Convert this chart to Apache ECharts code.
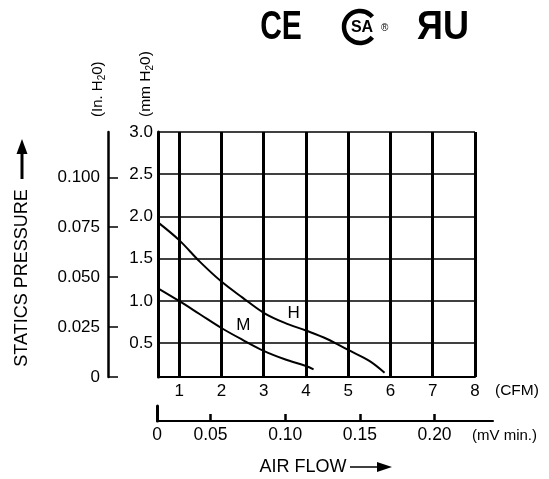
<!DOCTYPE html>
<html>
<head>
<meta charset="utf-8">
<script src="https://cdn.jsdelivr.net/npm/echarts@6/dist/echarts.min.js"></script>
<style>
html,body{margin:0;padding:0;background:#fff;}
#c{width:549px;height:479px;}
</style>
</head>
<body>
<div id="c"></div>
<script>
// ---- data ----
const cfmTicks = [1, 2, 3, 4, 5, 6, 7, 8];
const mmTicks = [0.5, 1.0, 1.5, 2.0, 2.5, 3.0];
const inTicks = [0, 0.025, 0.05, 0.075, 0.1];
const m3Ticks = [0.05, 0.10, 0.15, 0.20];
const seriesH = [[0.5,1.93],[1,1.72],[1.5,1.46],[2,1.23],[2.5,1.04],[3,0.86],[3.5,0.74],[4,0.65],[4.5,0.55],[5,0.42],[5.5,0.29],[5.86,0.15]];
const seriesM = [[0.5,1.15],[1,1.0],[1.5,0.84],[2,0.68],[2.5,0.54],[3,0.41],[3.5,0.31],[4,0.23],[4.18,0.19]];
const labelH = [3.71, 0.85];
const labelM = [2.52, 0.71];
const M3_PER_CFM = 0.0283;

const cfmMin = 0.5, cfmMax = 8;
const mmMin = 0.1, mmMax = 3.0;
const inMax = 0.1227;
const m3Min = cfmMin * M3_PER_CFM;
const m3Max = m3Min + (cfmMax - cfmMin) * M3_PER_CFM * 336 / 317;

const FONT = 'Liberation Sans';
const FS = 17;
const chart = echarts.init(document.getElementById('c'), null, {renderer: 'canvas'});
const subRich = {s: {fontSize: 10, fontFamily: FONT, color: '#000', padding: [8, 0, 0, 0]}};

chart.setOption({
  animation: false,
  backgroundColor: '#fff',
  textStyle: {fontFamily: FONT, color: '#000'},
  grid: [
    {left: 158, top: 132, width: 317, height: 245, containLabel: false},
    {left: 157, top: 406, width: 336, height: 15, containLabel: false}
  ],
  xAxis: [
    {
      type: 'value', gridIndex: 0, min: cfmMin, max: cfmMax,
      axisLine: {show: true, onZero: false, lineStyle: {color: '#000', width: 2}},
      axisTick: {show: false, customValues: cfmTicks},
      axisLabel: {customValues: cfmTicks, fontSize: FS, margin: 6, color: '#000', fontFamily: FONT},
      splitLine: {show: true, lineStyle: {color: '#000', width: 3}}
    },
    {
      type: 'value', gridIndex: 1, min: m3Min, max: m3Max,
      axisLine: {show: true, onZero: false, lineStyle: {color: '#000', width: 2}},
      axisTick: {show: true, inside: true, length: 7, customValues: [m3Min].concat(m3Ticks), lineStyle: {color: '#000', width: 2.5}},
      axisLabel: {customValues: [m3Min].concat(m3Ticks), fontSize: 17.5, margin: 5, color: '#000', fontFamily: FONT,
        formatter: v => (v === m3Min ? '0' : v.toFixed(2))},
      splitLine: {show: false}
    }
  ],
  yAxis: [
    {
      type: 'value', gridIndex: 0, min: mmMin, max: mmMax, position: 'left',
      axisLine: {show: true, onZero: false, lineStyle: {color: '#000', width: 3}},
      axisTick: {show: false, customValues: mmTicks},
      axisLabel: {customValues: mmTicks, fontSize: FS, margin: 5, color: '#000', fontFamily: FONT,
        formatter: v => v.toFixed(1)},
      splitLine: {show: true, lineStyle: {color: '#000', width: 1.5}},
      name: '(mm H{s|2}0)', nameLocation: 'end', nameRotate: 90, nameGap: 15,
      nameTextStyle: {fontSize: 15.5, fontFamily: FONT, color: '#000', padding: [0, 0, 24, 0], rich: subRich}
    },
    {
      type: 'value', gridIndex: 0, min: 0, max: inMax, position: 'left', offset: 50,
      axisLine: {show: true, onZero: false, lineStyle: {color: '#000', width: 2.5}},
      axisTick: {show: true, inside: true, length: 10, customValues: inTicks, lineStyle: {color: '#000', width: 1.5}},
      axisLabel: {customValues: inTicks, fontSize: FS, margin: 8, color: '#000', fontFamily: FONT,
        formatter: v => (v === 0 ? '0' : v.toFixed(3))},
      splitLine: {show: false},
      name: '(In. H{s|2}0)', nameLocation: 'end', nameRotate: 90, nameGap: 15,
      nameTextStyle: {fontSize: 15, fontFamily: FONT, color: '#000', padding: [0, 0, 20, 0], rich: subRich}
    },
    {
      type: 'value', gridIndex: 1, min: 0, max: 1,
      axisLine: {show: true, lineStyle: {color: '#000', width: 3}},
      axisTick: {show: false}, axisLabel: {show: false}, splitLine: {show: false}
    }
  ],
  series: [
    {
      name: 'H', type: 'line', xAxisIndex: 0, yAxisIndex: 0, data: seriesH,
      smooth: 0.35, symbol: 'none', lineStyle: {color: '#000', width: 2},
      markPoint: {symbol: 'circle', symbolSize: 0,
        label: {show: true, formatter: 'H', fontSize: 17, color: '#000', fontFamily: FONT},
        data: [{coord: labelH}]}
    },
    {
      name: 'M', type: 'line', xAxisIndex: 0, yAxisIndex: 0, data: seriesM,
      smooth: 0.35, symbol: 'none', lineStyle: {color: '#000', width: 2},
      markPoint: {symbol: 'circle', symbolSize: 0,
        label: {show: true, formatter: 'M', fontSize: 17, color: '#000', fontFamily: FONT},
        data: [{coord: labelM}]}
    }
  ],
  graphic: [
    {type: 'text', x: 22, y: 278, rotation: Math.PI / 2,
      style: {text: 'STATICS PRESSURE', fontSize: 18, fontFamily: FONT, fill: '#000', align: 'center', verticalAlign: 'middle'}},
    {type: 'line', shape: {x1: 22, y1: 179, x2: 22, y2: 150}, style: {stroke: '#000', lineWidth: 3}},
    {type: 'polygon', shape: {points: [[22, 139], [16.5, 154], [27.5, 154]]}, style: {fill: '#000'}},
    {type: 'text', x: 303, y: 467,
      style: {text: 'AIR FLOW', fontSize: 18, fontFamily: FONT, fill: '#000', align: 'center', verticalAlign: 'middle'}},
    {type: 'line', shape: {x1: 350, y1: 467, x2: 380, y2: 467}, style: {stroke: '#000', lineWidth: 1.5}},
    {type: 'polygon', shape: {points: [[392, 467], [377, 462], [377, 472]]}, style: {fill: '#000'}},
    {type: 'text', x: 495, y: 391,
      style: {text: '(CFM)', fontSize: 15.5, fontFamily: FONT, fill: '#000', align: 'left', verticalAlign: 'middle'}},
    {type: 'text', x: 472, y: 436,
      style: {text: '(mV min.)', fontSize: 15, fontFamily: FONT, fill: '#000', align: 'left', verticalAlign: 'middle'}},
    // certification marks
    {type: 'text', x: 281, y: 28, scaleX: 0.75,
      style: {text: 'CE', fontSize: 40, fontWeight: 'bold', fontFamily: FONT, fill: '#000', align: 'center', verticalAlign: 'middle'}},
    {type: 'arc', shape: {cx: 360, cy: 27, r: 16, startAngle: Math.PI * 0.22, endAngle: Math.PI * 1.78, clockwise: true},
      style: {stroke: '#000', lineWidth: 4.5, fill: 'none'}},
    {type: 'text', x: 362, y: 28,
      style: {text: 'SA', fontSize: 16, fontWeight: 'bold', fontFamily: FONT, fill: '#000', align: 'center', verticalAlign: 'middle'}},
    {type: 'text', x: 381, y: 28,
      style: {text: '®', fontSize: 10, fontFamily: FONT, fill: '#000', align: 'left', verticalAlign: 'middle'}},
    {type: 'text', x: 443, y: 28, scaleX: 0.9,
      style: {text: 'ЯU', fontSize: 40, fontWeight: 900, fontFamily: FONT, fill: '#000', align: 'center', verticalAlign: 'middle'}}
  ]
});
</script>
</body>
</html>
